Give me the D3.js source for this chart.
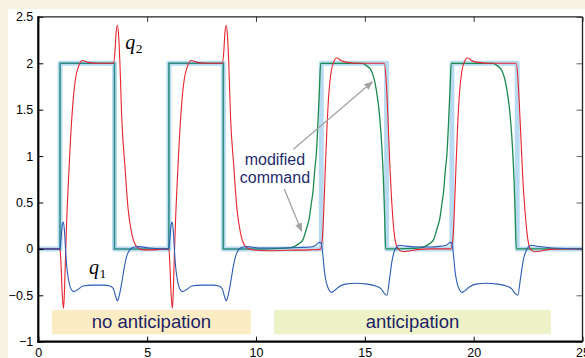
<!DOCTYPE html>
<html><head><meta charset="utf-8">
<script src="https://cdn.jsdelivr.net/npm/d3@7"></script>
<style>html,body{margin:0;padding:0;background:#f7f3e4;} svg{display:block;}</style>
</head><body>
<svg id="chart" width="585" height="358"></svg>
<script>
// ---------- data ----------
const xTicks = [0, 5, 10, 15, 20, 25];
const yTicks = [-1, -0.5, 0, 0.5, 1, 1.5, 2, 2.5];

// original command (square wave)
const command = [[0,0],[1,0],[1,2],[3.5,2],[3.5,0],[6,0],[6,2],[8.5,2],[8.5,0],[13,0],[13,2],[16,2],[16,0],[19,0],[19,2],[22,2],[22,0],[25,0]];
// modified command, no-anticipation part (equals command)
const modifiedNoAnticipation = [[0,0],[1,0],[1,2],[3.5,2],[3.5,0],[6,0],[6,2],[8.5,2],[8.5,0],[10.6,0]];
// modified command, anticipation part
const modifiedAnticipation = [[10.6,0],[11.5,0.01],[11.8,0.03],[12.0,0.06],[12.16,0.1],[12.32,0.22],[12.44,0.32],[12.55,0.5],[12.62,0.62],[12.7,0.85],[12.78,1.05],[12.85,1.38],[12.92,1.75],[12.97,2.0],[13.3,2],[14.9,2],[15.1,1.97],[15.3,1.92],[15.53,1.71],[15.68,1.43],[15.79,1.07],[15.86,0.71],[15.91,0.35],[15.96,0],[16.5,0],[17.2,0.005],[17.5,0.01],[17.8,0.03],[18.0,0.06],[18.16,0.1],[18.32,0.22],[18.44,0.32],[18.55,0.5],[18.62,0.62],[18.7,0.85],[18.78,1.05],[18.85,1.38],[18.92,1.75],[18.97,2.0],[19.3,2],[20.9,2],[21.1,1.97],[21.3,1.92],[21.53,1.71],[21.68,1.43],[21.79,1.07],[21.86,0.71],[21.91,0.35],[21.96,0],[22.5,0],[25,0]];
// q2 response (red)
const q2 = [[0,0],[0.95,0],[1.0,-0.01],[1.05,-0.2],[1.1,-0.48],[1.16,-0.64],[1.21,-0.4],[1.26,0.0],[1.32,0.4],[1.38,0.71],[1.455,1.07],[1.6,1.6],[1.72,1.85],[1.84,1.96],[2.02,2.03],[2.3,2.01],[2.8,2.0],[3.45,2.0],[3.52,2.12],[3.57,2.32],[3.63,2.41],[3.69,2.3],[3.75,2.0],[3.83,1.43],[3.98,0.89],[4.13,0.42],[4.29,0.17],[4.52,0.025],[4.82,-0.01],[5.3,-0.01],[5.9,0],
  [6.0,-0.01],[6.05,-0.2],[6.1,-0.48],[6.16,-0.64],[6.21,-0.4],[6.26,0.0],[6.32,0.4],[6.38,0.71],[6.455,1.07],[6.6,1.6],[6.72,1.85],[6.84,1.96],[7.02,2.03],[7.3,2.01],[7.8,2.0],[8.45,2.0],[8.52,2.12],[8.57,2.32],[8.63,2.41],[8.69,2.3],[8.75,2.0],[8.83,1.43],[8.98,0.89],[9.13,0.42],[9.29,0.17],[9.52,0.025],[9.82,-0.01],[10.5,-0.02],[11.5,-0.015],[12.5,-0.01],[12.95,-0.005],
  [13.05,0.12],[13.12,0.45],[13.19,0.9],[13.26,1.3],[13.34,1.65],[13.46,1.92],[13.6,2.03],[13.72,2.06],[13.9,2.03],[14.2,2.01],[14.8,2.0],[15.9,2.0],[15.97,1.85],[16.03,1.6],[16.14,0.96],[16.25,0.46],[16.37,0.13],[16.53,0.0],[16.75,-0.03],[17.0,-0.025],[17.5,-0.005],[18.0,0],[18.95,0],
  [19.05,0.12],[19.12,0.45],[19.19,0.9],[19.26,1.3],[19.34,1.65],[19.46,1.92],[19.6,2.03],[19.72,2.06],[19.9,2.03],[20.2,2.01],[20.8,2.0],[21.95,2.0],[22.03,1.85],[22.1,1.55],[22.18,1.15],[22.26,0.75],[22.33,0.5],[22.49,0.1],[22.6,0.0],[22.8,-0.03],[23.05,-0.025],[23.5,-0.005],[24,0],[25,0]];
// q1 response (blue)
const q1 = [[0,0],[0.97,0],[1.0,0.01],[1.05,0.12],[1.1,0.26],[1.15,0.29],[1.2,0.2],[1.25,0.0],[1.3,-0.17],[1.38,-0.32],[1.48,-0.42],[1.62,-0.46],[1.8,-0.44],[2.05,-0.4],[2.5,-0.39],[3.0,-0.39],[3.3,-0.4],[3.45,-0.43],[3.55,-0.51],[3.64,-0.56],[3.72,-0.5],[3.83,-0.37],[3.95,-0.2],[4.06,-0.08],[4.2,-0.01],[4.4,0.02],[4.6,0.025],[5.1,0.01],[5.9,0],
  [5.97,0],[6.0,0.01],[6.05,0.12],[6.1,0.26],[6.15,0.29],[6.2,0.2],[6.25,0.0],[6.3,-0.17],[6.38,-0.32],[6.48,-0.42],[6.62,-0.46],[6.8,-0.44],[7.05,-0.4],[7.5,-0.39],[8.0,-0.39],[8.3,-0.4],[8.45,-0.43],[8.55,-0.51],[8.64,-0.56],[8.72,-0.5],[8.83,-0.37],[8.95,-0.2],[9.06,-0.08],[9.2,-0.01],[9.4,0.02],[9.6,0.025],[10.1,0.01],[11.0,0.01],[12.0,0.015],[12.5,0.02],[12.75,0.04],[12.92,0.07],[13.0,0.06],
  [13.07,-0.06],[13.15,-0.25],[13.24,-0.37],[13.35,-0.44],[13.46,-0.47],[13.6,-0.45],[13.8,-0.41],[14.1,-0.38],[14.6,-0.37],[15.1,-0.38],[15.5,-0.4],[15.75,-0.43],[15.9,-0.48],[16.02,-0.5],[16.12,-0.35],[16.25,-0.13],[16.4,0.0],[16.6,0.04],[16.9,0.03],[17.5,0.02],[18.0,0.02],[18.5,0.03],[18.75,0.04],[18.92,0.07],[19.0,0.06],
  [19.07,-0.06],[19.15,-0.25],[19.24,-0.37],[19.35,-0.44],[19.46,-0.47],[19.6,-0.45],[19.8,-0.41],[20.1,-0.38],[20.6,-0.37],[21.1,-0.38],[21.5,-0.4],[21.75,-0.43],[21.9,-0.48],[22.03,-0.5],[22.15,-0.32],[22.3,-0.1],[22.45,0.0],[22.64,0.04],[23.0,0.025],[23.6,0.01],[25,0]];

const regionLabels = ["no anticipation", "anticipation"];
const regionStart = [0.63, 10.83];
const regionEnd = [9.76, 23.55];
const seriesLabels = ["q", "q"];
const seriesSubs = ["2", "1"];
const seriesLabelAt = [[4.0, 2.15], [2.33, -0.275]];
const annotationLines = ["modified", "command"];
const annotationAt = [10.87, 0.9, 0.715];
const arrowFrom = [[11.72, 1.075], [11.3, 0.645]];
const arrowTo = [[15.35, 1.80], [12.1, 0.19]];

// ---------- drawing ----------
const W = 585, H = 358;
const svg = d3.select('#chart');
const FONT = "'Liberation Sans', Arial, Helvetica, sans-serif";
svg.append('rect').attr('width', W).attr('height', H).attr('fill', '#f7f3e4');
svg.append('rect').attr('x', 8).attr('y', 9).attr('width', W - 8).attr('height', H - 9).attr('fill', '#ffffff');

const x = d3.scaleLinear().domain([0, 25]).range([38.3, 582.5]);
const y = d3.scaleLinear().domain([-1, 2.5]).range([341.7, 16.9]);

svg.append('defs').append('clipPath').attr('id', 'clip')
  .append('rect').attr('x', x(0)).attr('y', y(2.5)).attr('width', x(25) - x(0)).attr('height', y(-1) - y(2.5));

// region boxes
const boxColors = ['#fcecc3', '#eef2c7'];
regionLabels.forEach((lab, i) => {
  const x0 = x(regionStart[i]), x1 = x(regionEnd[i]);
  svg.append('rect').attr('x', x0).attr('y', 310).attr('width', x1 - x0).attr('height', 24.3).attr('fill', boxColors[i]);
  svg.append('text').attr('x', (x0 + x1) / 2).attr('y', 328.3).attr('text-anchor', 'middle')
    .attr('font-family', FONT).attr('font-size', 18.5).attr('fill', '#1c2364').text(lab);
});

const plot = svg.append('g').attr('clip-path', 'url(#clip)');
const lineLin = d3.line().x(d => x(d[0])).y(d => y(d[1]));
const lineSmooth = d3.line().x(d => x(d[0])).y(d => y(d[1])).curve(d3.curveMonotoneX);

plot.append('path').datum(command).attr('d', lineLin).attr('fill', 'none')
  .attr('stroke', '#b9dbf1').attr('stroke-width', 5).attr('stroke-linejoin', 'round');
plot.append('path').datum(modifiedNoAnticipation).attr('d', lineLin).attr('fill', 'none')
  .attr('stroke', '#2a8a80').attr('stroke-width', 1.5);
plot.append('path').datum(modifiedAnticipation).attr('d', lineSmooth).attr('fill', 'none')
  .attr('stroke', '#1a8a4e').attr('stroke-width', 1.3);
plot.append('path').datum(q2).attr('d', lineSmooth).attr('fill', 'none')
  .attr('stroke', '#e8232b').attr('stroke-width', 1.1);
plot.append('path').datum(q1).attr('d', lineSmooth).attr('fill', 'none')
  .attr('stroke', '#2b5bb5').attr('stroke-width', 1.1);

// axes
const fmt = d => d < 0 ? '\u2212' + Math.abs(d) : String(d);
const axL = svg.append('g').attr('transform', `translate(${x(0)},0)`)
  .call(d3.axisLeft(y).tickValues(yTicks).tickSize(-5).tickPadding(5).tickFormat(fmt));
const axB = svg.append('g').attr('transform', `translate(0,${y(-1)})`)
  .call(d3.axisBottom(x).tickValues(xTicks).tickSize(-5).tickPadding(6.5).tickFormat(fmt));
const axT = svg.append('g').attr('transform', `translate(0,${y(2.5)})`)
  .call(d3.axisTop(x).tickValues(xTicks).tickSize(-5).tickFormat(''));
const axR = svg.append('g').attr('transform', `translate(${x(25)},0)`)
  .call(d3.axisRight(y).tickValues(yTicks).tickSize(-6).tickFormat(''));
[axL, axB, axT, axR].forEach(g => {
  g.select('.domain').remove();
  g.selectAll('text').attr('font-family', FONT).attr('font-size', 12.5).attr('fill', '#000');
});
axL.selectAll('line').attr('stroke', '#000');
axB.selectAll('line').attr('stroke', '#000');
axT.selectAll('line').attr('stroke', '#333');
axR.selectAll('line').attr('stroke', '#666');

svg.append('line').attr('x1', x(0)).attr('x2', x(25)).attr('y1', y(2.5)).attr('y2', y(2.5)).attr('stroke', '#222').attr('stroke-width', 1.4);
svg.append('line').attr('x1', x(25)).attr('x2', x(25)).attr('y1', y(2.5)).attr('y2', y(-1)).attr('stroke', '#222').attr('stroke-width', 1.3);
svg.append('line').attr('x1', x(0)).attr('x2', x(0)).attr('y1', y(2.5) - 0.7).attr('y2', y(-1) + 1).attr('stroke', '#000').attr('stroke-width', 2.2);
svg.append('line').attr('x1', x(0) - 1).attr('x2', x(25)).attr('y1', y(-1)).attr('y2', y(-1)).attr('stroke', '#000').attr('stroke-width', 2.2);

// series labels q2, q1
seriesLabels.forEach((l, i) => {
  const t = svg.append('text').attr('x', x(seriesLabelAt[i][0])).attr('y', y(seriesLabelAt[i][1]))
    .attr('font-family', "'Liberation Serif', 'DejaVu Serif', serif").attr('fill', '#000');
  t.append('tspan').attr('font-style', 'italic').attr('font-size', 20).text(l);
  t.append('tspan').attr('font-size', 13.5).attr('dx', 0.5).attr('dy', 4).text(seriesSubs[i]);
});

// annotation
annotationLines.forEach((l, i) => {
  svg.append('text').attr('x', x(annotationAt[0])).attr('y', y(annotationAt[i + 1]))
    .attr('text-anchor', 'middle').attr('font-family', FONT).attr('font-size', 16)
    .attr('fill', '#1f2c6c').text(l);
});
svg.select('defs').append('marker').attr('id', 'ah').attr('viewBox', '0 0 10 10')
  .attr('refX', 9).attr('refY', 5).attr('markerWidth', 9).attr('markerHeight', 9)
  .attr('markerUnits', 'userSpaceOnUse').attr('orient', 'auto')
  .append('path').attr('d', 'M0,1 L10,5 L0,9 Z').attr('fill', '#a3a3a3');
arrowFrom.forEach((f, i) => {
  svg.append('line').attr('x1', x(f[0])).attr('y1', y(f[1])).attr('x2', x(arrowTo[i][0])).attr('y2', y(arrowTo[i][1]))
    .attr('stroke', '#a3a3a3').attr('stroke-width', 1.3).attr('marker-end', 'url(#ah)');
});
</script>
</body></html>
